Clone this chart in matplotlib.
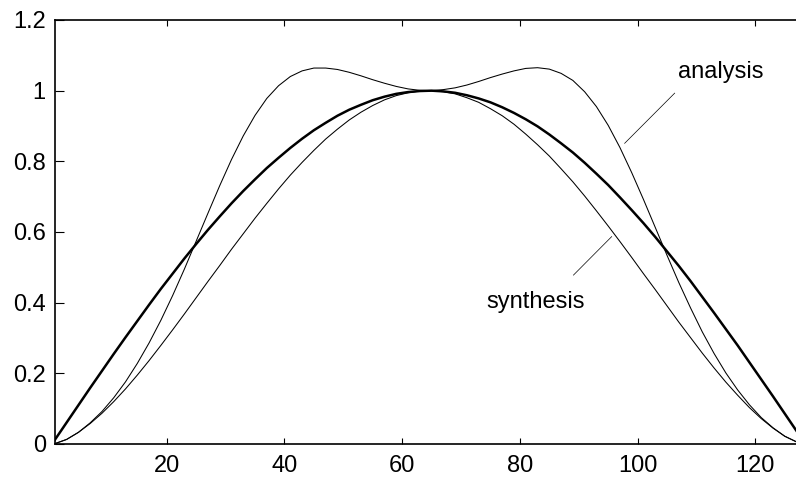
"""Analysis / synthesis window pair vs. the sine window, 128-point frame."""
import matplotlib; matplotlib.use("Agg")
import matplotlib.pyplot as plt

# sample index (every 2nd point of the 128-point frame)
n_idx = list(range(1, 128, 2))
sine_win = [0.012,0.061,0.110,0.159,0.207,0.255,0.302,0.348,0.394,0.439,0.482,0.525,0.566,0.606,0.644,0.681,
            0.716,0.749,0.781,0.810,0.838,0.864,0.888,0.909,0.929,0.946,0.960,0.973,0.983,0.991,0.996,0.999,
            1.000,0.998,0.994,0.987,0.978,0.967,0.953,0.937,0.919,0.899,0.876,0.851,0.825,0.796,0.765,0.733,
            0.698,0.662,0.625,0.586,0.545,0.504,0.461,0.416,0.371,0.325,0.279,0.231,0.183,0.135,0.086,0.037]
synthesis = [0.001,0.013,0.033,0.058,0.087,0.120,0.156,0.195,0.236,0.279,0.323,0.368,0.414,0.460,0.505,0.551,
             0.595,0.639,0.681,0.722,0.761,0.797,0.831,0.863,0.891,0.917,0.939,0.958,0.974,0.986,0.994,0.999,
             1.000,0.997,0.991,0.980,0.967,0.949,0.929,0.905,0.877,0.847,0.815,0.779,0.742,0.702,0.660,0.617,
             0.573,0.528,0.482,0.437,0.391,0.345,0.301,0.257,0.215,0.175,0.138,0.103,0.072,0.045,0.022,0.006]
analysis = [0.001,0.013,0.033,0.060,0.092,0.131,0.176,0.228,0.286,0.350,0.420,0.495,0.574,0.653,0.731,0.805,
            0.872,0.930,0.978,1.014,1.040,1.056,1.064,1.064,1.060,1.052,1.042,1.031,1.021,1.012,1.005,1.001,
            1.000,1.003,1.008,1.016,1.026,1.037,1.047,1.056,1.063,1.065,1.061,1.049,1.029,0.997,0.955,0.902,
            0.839,0.768,0.692,0.613,0.534,0.457,0.385,0.317,0.256,0.201,0.153,0.111,0.075,0.046,0.022,0.006]
x_ticks = [20, 40, 60, 80, 100, 120]
y_ticks = [0, 0.2, 0.4, 0.6, 0.8, 1, 1.2]
y_tick_labels = ["0", "0.2", "0.4", "0.6", "0.8", "1", "1.2"]

plt.rcParams["font.family"] = ["Liberation Sans", "DejaVu Sans"]
fig = plt.figure(figsize=(7.96, 4.78), dpi=100)
# right spine falls just outside the canvas, as in the original crop
ax = fig.add_axes([54.9/796, 34/478, 747.5/796, 424/478])
ax.plot(n_idx, sine_win, color="k", lw=1.8)
ax.plot(n_idx, synthesis, color="k", lw=0.75)
ax.plot(n_idx, analysis, color="k", lw=0.75)
ax.set_xlim(1, 128); ax.set_ylim(0, 1.2)
ax.set_xticks(x_ticks)
ax.set_yticks(y_ticks); ax.set_yticklabels(y_tick_labels)
ax.tick_params(direction="in", top=True, labelsize=17)
ax.tick_params(axis="x", length=4.5, pad=8)
ax.tick_params(axis="y", length=6.3, pad=6.5)
for sp in ax.spines.values(): sp.set_linewidth(1.2)

ax.text(114.2, 1.053, "analysis", fontsize=17, ha="center", va="center")
ax.plot([106.3, 97.8], [0.993, 0.851], color="k", lw=0.5)
ax.text(82.6, 0.402, "synthesis", fontsize=17, ha="center", va="center")
ax.plot([89.1, 95.6], [0.478, 0.587], color="k", lw=0.5)

fig.savefig("out.png", dpi=100)
